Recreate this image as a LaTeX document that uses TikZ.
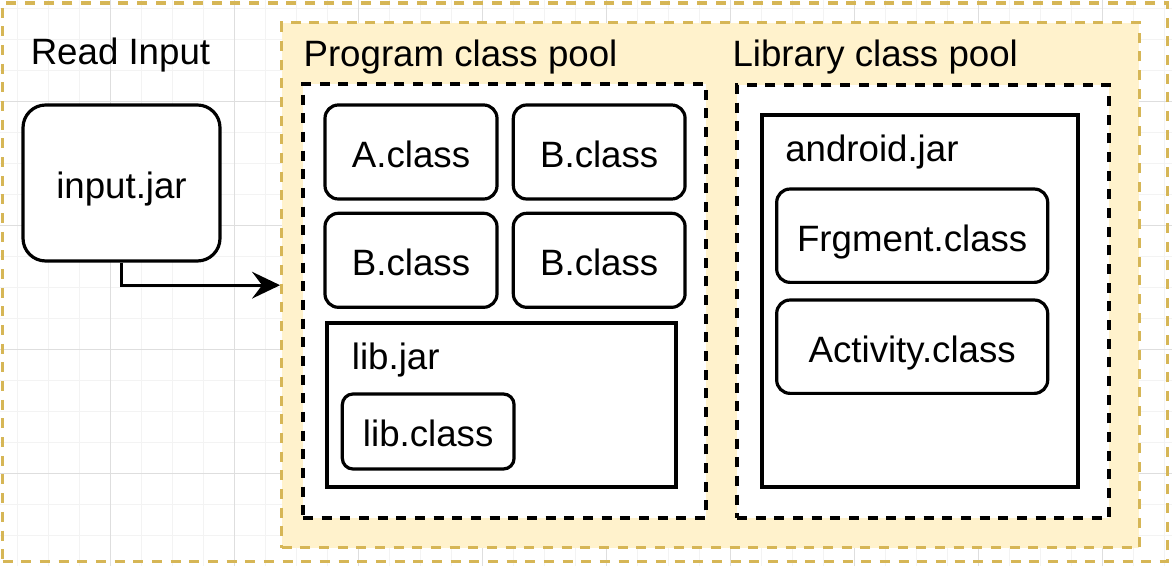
\documentclass[tikz,border=0pt]{standalone}
\usepackage{fontspec}
\setmainfont{Liberation Sans}
\usetikzlibrary{arrows.meta,fit}
\definecolor{goldline}{HTML}{D6B656}
\definecolor{goldfill}{HTML}{FFF2CC}
\definecolor{gridminor}{HTML}{F3F3F3}
\definecolor{gridmajor}{HTML}{DEDEDE}
\newcommand\dgfont{\fontsize{27.5pt}{33pt}\selectfont}
\begin{document}
\begin{tikzpicture}[x=0.75pt,y=-0.75pt,
  cls/.style={draw, line width=2.4pt, rounded corners=10pt, fill=white, font=\dgfont,
    text height=30pt, text depth=6.9pt, inner sep=0pt, align=center},
  frame/.style={inner sep=0pt, line width=2.4pt},
  golddash/.style={draw=goldline, dash pattern=on 7.5pt off 6.5pt},
  blackdash/.style={draw=black, dash pattern=on 7.5pt off 6.5pt, fill=white},
  title/.style={anchor=base west, inner sep=0pt, font=\dgfont},
  arr/.style={line width=2.4pt, -{Stealth[length=21pt, width=20pt, inset=7.5pt]}}
]
\useasboundingbox (0,0) rectangle (1172,566);
\fill[white] (0,0) rectangle (1172,566);
% grid
\foreach \gx in {17,48,...,1172} \draw[gridminor, line width=0.75pt] (\gx,0) -- (\gx,566);
\foreach \gy in {9,40,...,566} \draw[gridminor, line width=0.75pt] (0,\gy) -- (1172,\gy);
\foreach \gx in {110,234,...,1172} \draw[gridmajor, line width=0.75pt] (\gx,0) -- (\gx,566);
\foreach \gy in {102,226,...,566} \draw[gridmajor, line width=0.75pt] (0,\gy) -- (1172,\gy);

% containers
\node[frame, golddash, fit={(2.5,3) (1167.5,561.5)}] (outer) {};
\node[frame, golddash, fill=goldfill, fit={(281.7,22.7) (1139.3,547.7)}] (pool) {};
\node[frame, blackdash, fit={(303,84) (706,518)}] (progbox) {};
\node[frame, blackdash, fit={(737,85) (1109,518)}] (libbox) {};
\node[frame, draw, fill=white, fit={(762,115) (1078,487)}] (android) {};
\node[frame, draw, fill=white, fit={(327,323) (676,487)}] (libjar) {};

% titles
\node[title] (readin) at (30.5,65) {Read Input};
\node[title] (progtitle) at (303.3,66.7) {Program class pool};
\node[title] (libtitle) at (732.3,66.7) {Library class pool};
\node[title] (androidtitle) at (785,161.7) {android.jar};
\node[title] (libjartitle) at (351.7,370) {lib.jar};

% class boxes
\node[cls, rounded corners=17pt, minimum width=147.75pt, minimum height=117pt] (input) at (121.5,183) {input.jar};
\node[cls, minimum width=129pt, minimum height=70.5pt] (A) at (411,152) {A.class};
\node[cls, minimum width=128.8pt, minimum height=70.5pt] (B1) at (599.2,152) {B.class};
\node[cls, minimum width=129pt, minimum height=70.5pt] (B2) at (411,260.3) {B.class};
\node[cls, minimum width=128.8pt, minimum height=70.5pt] (B3) at (599.2,260.3) {B.class};
\node[cls, rounded corners=8pt, minimum width=128.8pt, minimum height=56.25pt] (libclass) at (428.2,431.5) {lib.class};
\node[cls, minimum width=203.25pt, minimum height=70pt] (frag) at (912.2,235.7) {Frgment.class};
\node[cls, minimum width=203.25pt, minimum height=70pt] (act) at (912.2,346.7) {Activity.class};

% connector
\draw[arr] (input.south) |- (pool.west);
\end{tikzpicture}
\end{document}
